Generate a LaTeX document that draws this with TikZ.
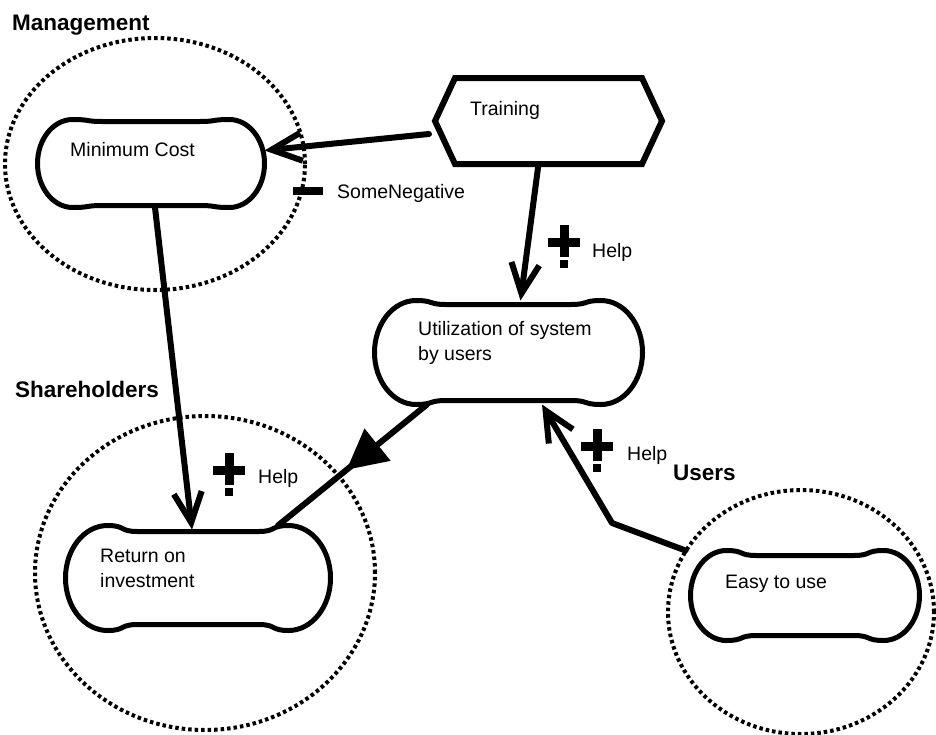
\documentclass[tikz,border=0pt]{standalone}
\usepackage{fontspec}
\setmainfont{Liberation Sans}
\usetikzlibrary{arrows.meta,decorations.markings,shapes.geometric}

\tikzset{
  sgbox/.style={draw=none, rectangle, inner sep=0pt, outer sep=0pt},
  sgline/.style={line width=5pt, line join=round},
  hexline/.style={line width=6pt, line join=miter},
  actor/.style={draw, ellipse, line width=4pt, dash pattern=on 3.5pt off 3pt, inner sep=0pt},
  conn/.style={line width=6pt, line cap=round, line join=round},
  barb/.style={-{Straight Barb[length=30pt,width=28pt]}},
  txt/.style={inner sep=0pt, anchor=base west, align=left,
              font=\fontsize{19.5}{24.5}\selectfont},
  actorname/.style={inner sep=0pt, anchor=base west,
              font=\bfseries\fontsize{22.5}{27}\selectfont},
  signbar/.style={fill, inner sep=0pt, rectangle},
  helpsign/.pic={
    \fill (-16,-4.5) rectangle (16,4.5);
    \fill (-4.5,-17) rectangle (4.5,15);
    \fill (-4,18) rectangle (4,26);
  }
}

% softgoal: name, x1, y1, x2, y2, dip of the long sides
\newcommand\softgoal[6]{%
  \pgfmathsetmacro\sgr{(#5-#3)/2}%
  \pgfmathsetmacro\sgrx{0.8*\sgr}%
  \pgfmathsetmacro\sgym{(#3+#5)/2}%
  \pgfmathsetmacro\sgL{#2+\sgrx}%
  \pgfmathsetmacro\sgR{#4-\sgrx}%
  \pgfmathsetmacro\sgb{min(30,(\sgR-\sgL)/3)}%
  \pgfmathsetmacro\sgkx{0.5523*\sgrx}%
  \pgfmathsetmacro\sgky{0.5523*\sgr}%
  \node[sgbox, minimum width={(#4-#2)*1pt}, minimum height={(#5-#3)*1pt}]
    (#1) at ({(#2+#4)/2},\sgym) {};
  \draw[sgline] (\sgL,#3)
    .. controls ({\sgL+0.6*\sgb},#3) and ({\sgL+0.4*\sgb},{#3+#6}) .. ({\sgL+\sgb},{#3+#6})
    -- ({\sgR-\sgb},{#3+#6})
    .. controls ({\sgR-0.4*\sgb},{#3+#6}) and ({\sgR-0.6*\sgb},#3) .. (\sgR,#3)
    .. controls ({\sgR+\sgkx},#3) and (#4,{\sgym-\sgky}) .. (#4,\sgym)
    .. controls (#4,{\sgym+\sgky}) and ({\sgR+\sgkx},#5) .. (\sgR,#5)
    .. controls ({\sgR-0.6*\sgb},#5) and ({\sgR-0.4*\sgb},{#5-#6}) .. ({\sgR-\sgb},{#5-#6})
    -- ({\sgL+\sgb},{#5-#6})
    .. controls ({\sgL+0.4*\sgb},{#5-#6}) and ({\sgL+0.6*\sgb},#5) .. (\sgL,#5)
    .. controls ({\sgL-\sgkx},#5) and (#2,{\sgym+\sgky}) .. (#2,\sgym)
    .. controls (#2,{\sgym-\sgky}) and ({\sgL-\sgkx},#3) .. (\sgL,#3) -- cycle;
}

\begin{document}
\begin{tikzpicture}[x=1pt,y=-1pt]
\useasboundingbox (0,0) rectangle (936,734);

% actor boundaries
\node[actor, minimum width=300pt, minimum height=252pt] (mgmt) at (155,164) {};
\node[actor, minimum width=340pt, minimum height=314pt] (share) at (205,573) {};
\node[actor, minimum width=266pt, minimum height=244pt] (users) at (801,612) {};

\node[actorname] (mgmtname) at (12,30) {Management};
\node[actorname] (sharename) at (15,397) {Shareholders};
\node[actorname] (usersname) at (673,480) {Users};

% softgoals
\softgoal{mc}{37.5}{119.5}{264.5}{207.5}{2}
\softgoal{ut}{374.5}{300.5}{642.5}{404.5}{4}
\softgoal{roi}{65.5}{525.5}{330.5}{630.5}{6}
\softgoal{ez}{690.5}{550.5}{919.5}{640.5}{5}

% labels (base anchor sits on the last line)
\node[txt] (mctext) at (70,156) {Minimum Cost};
\node[txt] (uttext) at (418,360) {Utilization of system\\by users};
\node[txt] (roitext) at (100,587) {Return on\\investment};
\node[txt] (eztext) at (725,588) {Easy to use};

% task
\node[sgbox, minimum width=227pt, minimum height=86pt] (tr) at (548.5,121) {};
\draw[hexline] (tr.west) -- ([xshift=20pt]tr.north west) -- ([xshift=-20pt]tr.north east)
  -- (tr.east) -- ([xshift=-20pt]tr.south east) -- ([xshift=20pt]tr.south west) -- cycle;
\node[txt] (trtext) at (470,115) {Training};

% contributions
\draw[conn, barb] ([xshift=-6pt,yshift=-13pt]tr.west) -- ([yshift=13pt]mc.east);
\node[signbar, minimum width=30pt, minimum height=8pt] (neg) at (308,191) {};
\node[txt] (neglabel) at (337,198) {SomeNegative};

\draw[conn, barb] ([xshift=-10pt]tr.south) -- ([xshift=12pt]ut.north);
\pic at (564,242) {helpsign};
\node[txt] (help1) at (592,257) {Help};

\draw[conn, barb] ([xshift=4pt]mc.south) -- ([xshift=-6pt,yshift=-4pt]roi.north);
\pic at (229,470) {helpsign};
\node[txt] (help2) at (258,483) {Help};

\coordinate (bend) at (612,523);
\draw[conn, barb] ([xshift=-5pt]ez.north west) -- (bend) -- ([xshift=33.5pt]ut.south);
\pic at (597,446) {helpsign};
\node[txt] (help3) at (627,460) {Help};

% decomposition link
\draw[conn, postaction={decorate}, decoration={markings,
    mark=at position 0.54 with {\arrow{Triangle[length=40pt,width=40pt]}}}]
  ([xshift=-81.5pt]ut.south) -- ([xshift=80pt]roi.north);
\end{tikzpicture}
\end{document}
